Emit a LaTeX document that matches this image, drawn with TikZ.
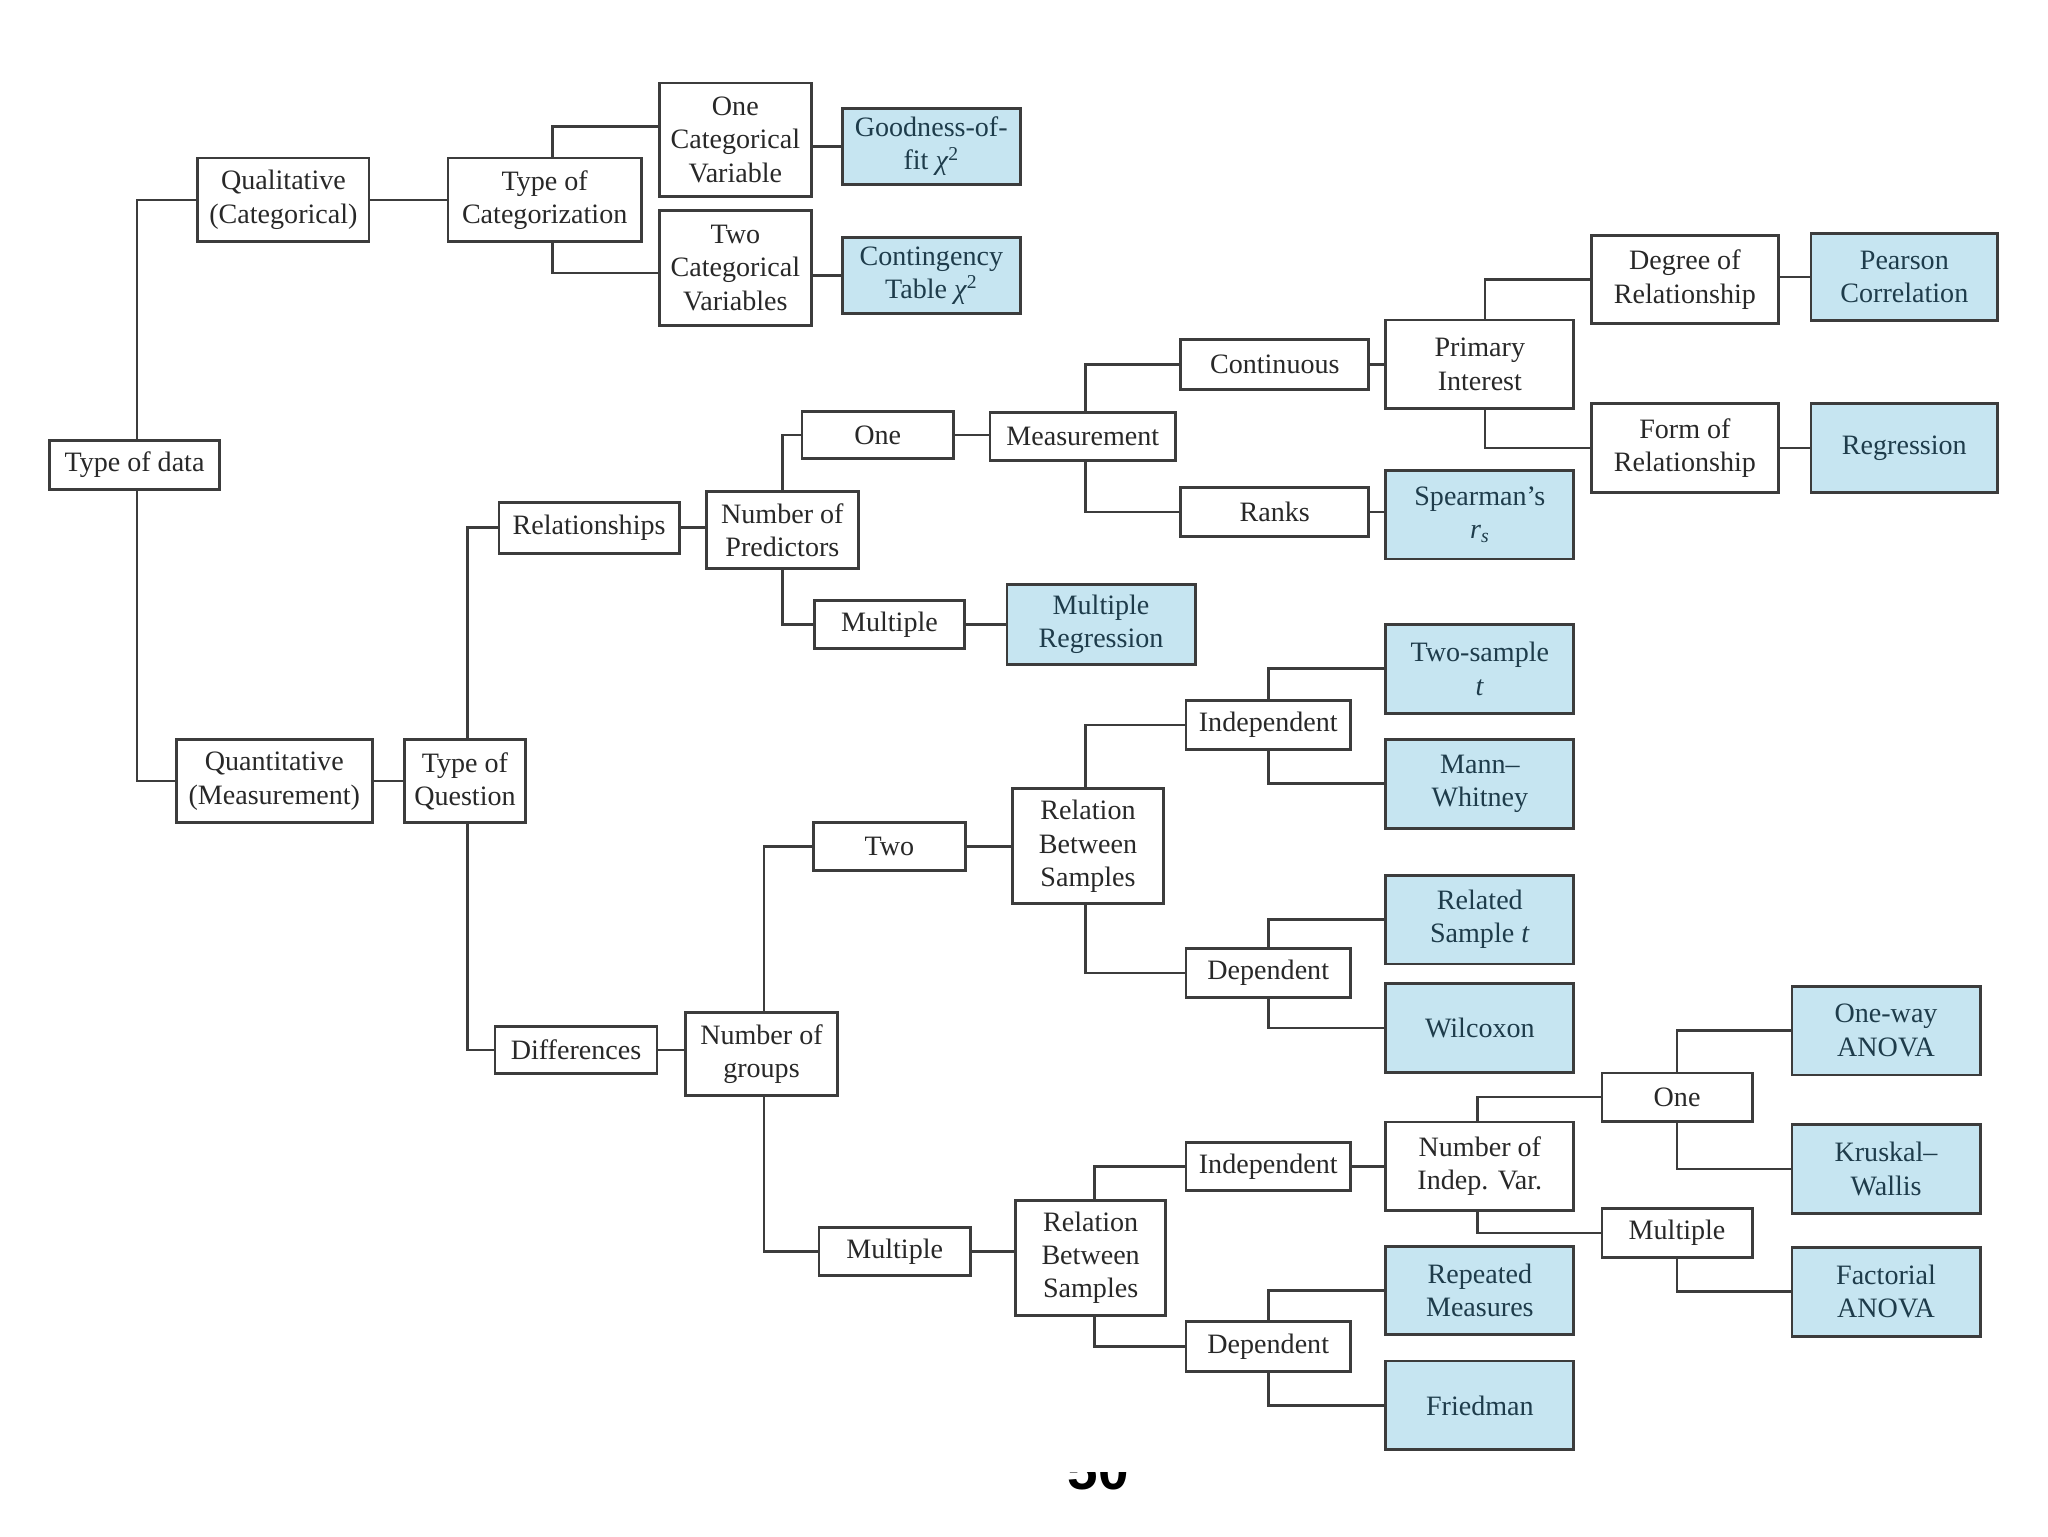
\documentclass[tikz,border=0pt]{standalone}
\usepackage{fontspec}
\setmainfont{Liberation Serif}
\newfontfamily\pnfont{Liberation Sans}
\definecolor{linegray}{RGB}{60,60,60}
\definecolor{txtgray}{RGB}{40,40,40}
\definecolor{bluefill}{RGB}{198,229,241}
\definecolor{bluetxt}{RGB}{30,60,75}
\tikzset{
  wbox/.style={draw=linegray, line width=2.2pt, fill=white, rectangle, align=center,
    inner sep=0pt, text=txtgray, font=\fontsize{21.5}{25.5}\selectfont},
  bbox/.style={wbox, fill=bluefill, text=bluetxt},
  conn/.style={draw=linegray, line width=2pt},
}
\begin{document}
\begin{tikzpicture}[x=1pt,y=-1pt]
\useasboundingbox (0,0) rectangle (1568,1176);
\fill[white] (0,0) rectangle (1568,1176);

% --- qualitative branch
\node[wbox, minimum width=130, minimum height=37] (tod) at (103,356) {Type of data};
\node[wbox, minimum width=131, minimum height=64] (qual) at (217,153) {Qualitative\\(Categorical)};
\node[wbox, minimum width=148, minimum height=64] (toc) at (417,153) {Type of\\Categorization};
\node[wbox, minimum width=116, minimum height=87] (onecat) at (563,107) {One\\Categorical\\Variable};
\node[wbox, minimum width=116, minimum height=88] (twocat) at (563,205) {Two\\Categorical\\Variables};
\node[bbox, minimum width=136, minimum height=58] (gof) at (713,112) {Goodness-of-\\fit \textit{χ}\textsuperscript{2}};
\node[bbox, minimum width=136, minimum height=58] (cont) at (713,211) {Contingency\\Table \textit{χ}\textsuperscript{2}};

% --- quantitative branch
\node[wbox, minimum width=150, minimum height=64] (quant) at (210,598) {Quantitative\\(Measurement)};
\node[wbox, minimum width=93, minimum height=64] (toq) at (356,598) {Type of\\Question};
\node[wbox, minimum width=138, minimum height=39] (rel) at (451,404) {Relationships};
\node[wbox, minimum width=124, minimum height=36] (diff) at (441,804) {Differences};

% relationships
\node[wbox, minimum width=116, minimum height=59] (npred) at (599,406) {Number of\\Predictors};
\node[wbox, minimum width=116, minimum height=36] (onep) at (672,333) {One};
\node[wbox, minimum width=115, minimum height=37] (multp) at (681,478) {Multiple};
\node[bbox, minimum width=144, minimum height=61] (mreg) at (843,478) {Multiple\\Regression};
\node[wbox, minimum width=142, minimum height=37] (meas) at (829,334) {Measurement};
\node[wbox, minimum width=144, minimum height=38] (contin) at (976,279) {Continuous};
\node[wbox, minimum width=144, minimum height=38] (ranks) at (976,392) {Ranks};
\node[bbox, minimum width=144, minimum height=68] (spear) at (1133,394) {Spearman's\\\textit{r}\textsubscript{\textit{s}}};
\node[wbox, minimum width=144, minimum height=68] (prim) at (1133,279) {Primary\\Interest};
\node[wbox, minimum width=143, minimum height=67] (deg) at (1290,214) {Degree of\\Relationship};
\node[wbox, minimum width=143, minimum height=68] (form) at (1290,343) {Form of\\Relationship};
\node[bbox, minimum width=143, minimum height=67] (pear) at (1458,212) {Pearson\\Correlation};
\node[bbox, minimum width=143, minimum height=68] (regr) at (1458,343) {Regression};

% differences
\node[wbox, minimum width=116, minimum height=64] (ngrp) at (583,807) {Number of\\groups};
\node[wbox, minimum width=116, minimum height=37] (two) at (681,648) {Two};
\node[wbox, minimum width=116, minimum height=37] (multg) at (685,958) {Multiple};
\node[wbox, minimum width=115, minimum height=88] (rbsa) at (833,648) {Relation\\Between\\Samples};
\node[wbox, minimum width=126, minimum height=37] (inda) at (971,555) {Independent};
\node[wbox, minimum width=126, minimum height=37] (depa) at (971,745) {Dependent};
\node[bbox, minimum width=144, minimum height=68] (tst) at (1133,512) {Two-sample\\\textit{t}};
\node[bbox, minimum width=144, minimum height=68] (mw) at (1133,600) {Mann--\\Whitney};
\node[bbox, minimum width=144, minimum height=68] (rst) at (1133,704) {Related\\Sample \textit{t}};
\node[bbox, minimum width=144, minimum height=68] (wil) at (1133,787) {Wilcoxon};

\node[wbox, minimum width=115, minimum height=88] (rbsb) at (835,963) {Relation\\Between\\Samples};
\node[wbox, minimum width=126, minimum height=37] (indb) at (971,893) {Independent};
\node[wbox, minimum width=126, minimum height=38] (depb) at (971,1031) {Dependent};
\node[bbox, minimum width=144, minimum height=67] (rm) at (1133,988) {Repeated\\Measures};
\node[bbox, minimum width=144, minimum height=68] (fried) at (1133,1076) {Friedman};
\node[wbox, minimum width=144, minimum height=68] (niv) at (1133,893) {Number of\\Indep. Var.};
\node[wbox, minimum width=115, minimum height=37] (onei) at (1284,840) {One};
\node[wbox, minimum width=115, minimum height=37] (multi) at (1284,944) {Multiple};
\node[bbox, minimum width=144, minimum height=68] (owa) at (1444,789) {One-way\\ANOVA};
\node[bbox, minimum width=144, minimum height=68] (kw) at (1444,895) {Kruskal--\\Wallis};
\node[bbox, minimum width=144, minimum height=68] (fa) at (1444,989) {Factorial\\ANOVA};

% --- connectors
\path[conn] ([xshift=2pt]tod.north) |- (qual.west);
\path[conn] ([xshift=2pt]tod.south) |- (quant.west);
\path[conn] (qual.east) -- (toc.west);
\path[conn] ([xshift=6pt]toc.north) |- ([yshift=10pt]onecat.west);
\path[conn] ([xshift=6pt]toc.south) |- ([yshift=-4pt]twocat.west);
\path[conn] (onecat.east |- gof.west) -- (gof.west);
\path[conn] (twocat.east |- cont.west) -- (cont.west);

\path[conn] (quant.east) -- (toq.west);
\path[conn] ([xshift=2pt]toq.north) |- (rel.west);
\path[conn] ([xshift=2pt]toq.south) |- (diff.west);
\path[conn] (rel.east) -- (rel.east -| npred.west);
\path[conn] (npred.north) |- (onep.west);
\path[conn] (npred.south) |- (multp.west);
\path[conn] (onep.east) -- (onep.east -| meas.west);
\path[conn] (multp.east) -- (mreg.west);
\path[conn] ([xshift=2pt]meas.north) |- (contin.west);
\path[conn] ([xshift=2pt]meas.south) |- (ranks.west);
\path[conn] (contin.east) -- (contin.east -| prim.west);
\path[conn] (ranks.east) -- (ranks.east -| spear.west);
\path[conn] ([xshift=4pt]prim.north) |- (deg.west);
\path[conn] ([xshift=4pt]prim.south) |- (form.west);
\path[conn] (deg.east |- pear.west) -- (pear.west);
\path[conn] (form.east) -- (regr.west);

\path[conn] (diff.east) -- (diff.east -| ngrp.west);
\path[conn] ([xshift=2pt]ngrp.north) |- (two.west);
\path[conn] ([xshift=2pt]ngrp.south) |- (multg.west);
\path[conn] (two.east) -- (rbsa.west);
\path[conn] (multg.east) -- (multg.east -| rbsb.west);
\path[conn] ([xshift=-2pt]rbsa.north) |- (inda.west);
\path[conn] ([xshift=-2pt]rbsa.south) |- (depa.west);
\path[conn] (inda.north) |- (tst.west);
\path[conn] (inda.south) |- (mw.west);
\path[conn] (depa.north) |- (rst.west);
\path[conn] (depa.south) |- (wil.west);
\path[conn] ([xshift=3pt]rbsb.north) |- (indb.west);
\path[conn] ([xshift=3pt]rbsb.south) |- (depb.west);
\path[conn] (indb.east) -- (indb.east -| niv.west);
\path[conn] (depb.north) |- (rm.west);
\path[conn] (depb.south) |- (fried.west);
\path[conn] ([xshift=-2pt]niv.north) |- (onei.west);
\path[conn] ([xshift=-2pt]niv.south) |- (multi.west);
\path[conn] (onei.north) |- (owa.west);
\path[conn] (onei.south) |- (kw.west);
\path[conn] (multi.south) |- (fa.west);

% --- cropped page number
\begin{scope}
\clip (800,1127) rectangle (890,1150);
\node[anchor=base, inner sep=0pt, font=\pnfont\bfseries\fontsize{42}{44}\selectfont, text=black] (pgnum) at (841,1140) {50};
\end{scope}
\end{tikzpicture}
\end{document}
